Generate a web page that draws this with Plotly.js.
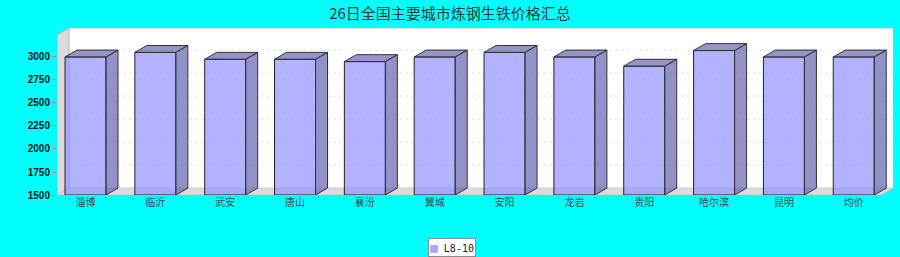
<!DOCTYPE html>
<html>
<head>
<meta charset="utf-8">
<script src="https://cdn.plot.ly/plotly-3.0.1.min.js"></script>
<style>
html,body{margin:0;padding:0;background:#00ffff;}
#chart{width:900px;height:257px;}
</style>
</head>
<body>
<div id="chart"></div>
<script>
// ---- data ----
const titleText = '26日全国主要城市炼钢生铁价格汇总';
const seriesName = 'L8-10';
const categories = ['淄博','临沂','武安','唐山','襄汾','翼城','安阳','龙岩','贵阳','哈尔滨','昆明','均价'];
const prices = [3000, 3050, 2975, 2975, 2950, 3000, 3050, 3000, 2900, 3070, 3000, 3000];
const yTicks = [1500, 1750, 2000, 2250, 2500, 2750, 3000];

// ---- 3D geometry (in axis units) ----
const yBase = 1500;
const xRange = [-0.408, 11.562];
const yRange = [1500, 3315];
const barW = 0.587;      // front face width (category units)
const dX = 0.172;        // depth offset to the right
const dY = 75;           // depth offset upward (value units)

const idx = categories.map((c, i) => i);

// side and top faces built from the data
const sideX = [], sideY = [], topX = [], topY = [];
idx.forEach(i => {
  const v = prices[i];
  const xl = i - barW / 2, xr = i + barW / 2;
  sideX.push(xr, xr, xr + dX, xr + dX, xr, null);
  sideY.push(yBase, v, v + dY, yBase + dY, yBase, null);
  topX.push(xl, xr, xr + dX, xl + dX, xl, null);
  topY.push(v, v, v + dY, v + dY, v, null);
});

const frontTrace = {
  type: 'bar', x: idx, y: prices.map(v => v - yBase), base: yBase,
  width: barW, name: seriesName, showlegend: false, cliponaxis: false,
  marker: {color: 'rgba(146,146,255,0.7)', line: {color: '#222', width: 1}},
  hoverinfo: 'skip'
};
const sideTrace = {
  type: 'scatter', mode: 'lines', x: sideX, y: sideY, fill: 'toself',
  fillcolor: 'rgba(100,100,176,0.7)', line: {color: '#333', width: 1},
  connectgaps: false, showlegend: false, cliponaxis: false, hoverinfo: 'skip'
};
const topTrace = {
  type: 'scatter', mode: 'lines', x: topX, y: topY, fill: 'toself',
  fillcolor: 'rgba(104,104,180,0.7)', line: {color: '#333', width: 1},
  connectgaps: false, showlegend: false, cliponaxis: false, hoverinfo: 'skip'
};

// walls, floor and gridlines
const x0 = xRange[0], x1 = xRange[1], yTop = yRange[1];
const shapes = [];
shapes.push({type: 'rect', layer: 'below', xref: 'x', yref: 'y',
  x0: x0 + dX, x1: x1, y0: yBase + dY, y1: yTop,
  fillcolor: '#ffffff', line: {width: 0}});
shapes.push({type: 'line', layer: 'below', xref: 'x', yref: 'y',
  x0: x0 + dX, x1: x1, y0: yTop, y1: yTop, line: {color: '#b8c8d0', width: 1}});
yTicks.forEach(t => {
  if (t === yBase) return;
  shapes.push({type: 'line', layer: 'below', xref: 'x', yref: 'y',
    x0: x0 + dX, x1: x1, y0: t + dY, y1: t + dY,
    line: {color: '#e2e2e2', width: 1, dash: '3px,3px'}});
});
shapes.push({type: 'path', layer: 'below', xref: 'x', yref: 'y',
  path: `M${x0},${yBase} L${x0},${yTop - dY} L${x0 + dX},${yTop} L${x0 + dX},${yBase + dY} Z`,
  fillcolor: '#dcdcdc', line: {color: '#b4b4b4', width: 1}});
shapes.push({type: 'path', layer: 'below', xref: 'x', yref: 'y',
  path: `M${x0},${yBase} L${x0 + dX},${yBase + dY} L${x1},${yBase + dY} L${x1 - dX},${yBase} Z`,
  fillcolor: '#dcdcdc', line: {color: '#c8c8c8', width: 1}});

const layout = {
  width: 900, height: 257,
  margin: {l: 57, r: 7, t: 28, b: 62, pad: 0},
  paper_bgcolor: '#00ffff', plot_bgcolor: 'rgba(0,0,0,0)',
  title: {text: titleText, x: 0.5, xref: 'container', y: 1 - 14 / 257, yref: 'container',
    yanchor: 'middle', font: {family: 'Noto Sans CJK SC', size: 15, color: '#333'}},
  showlegend: false,
  xaxis: {range: xRange, tickvals: idx, ticktext: categories, showgrid: false,
    zeroline: false, showline: false, ticks: '', fixedrange: true,
    tickfont: {family: 'Noto Sans CJK SC', size: 10, color: '#444'}},
  yaxis: {range: yRange, tickvals: yTicks, showgrid: false, zeroline: false,
    showline: false, ticks: 'outside', ticklen: 4, tickcolor: '#e07878', tickwidth: 1,
    fixedrange: true,
    tickfont: {family: 'Liberation Sans', size: 10, color: '#111', weight: 'bold'}},
  shapes: shapes,
  annotations: [{
    xref: 'paper', yref: 'paper', x: (451.5 - 57) / 836, y: (195 - 247) / 167,
    xanchor: 'center', yanchor: 'middle', showarrow: false,
    text: '<span style="color:#a8a8ff;font-size:13px">■</span> ' + seriesName,
    font: {family: 'DejaVu Sans Mono', size: 10, color: '#222'},
    bgcolor: '#ffffff', bordercolor: '#8c8c8c', borderwidth: 1, borderpad: 1
  }]
};

Plotly.newPlot('chart', [frontTrace, sideTrace, topTrace], layout, {displayModeBar: false, staticPlot: true});
</script>
</body>
</html>
